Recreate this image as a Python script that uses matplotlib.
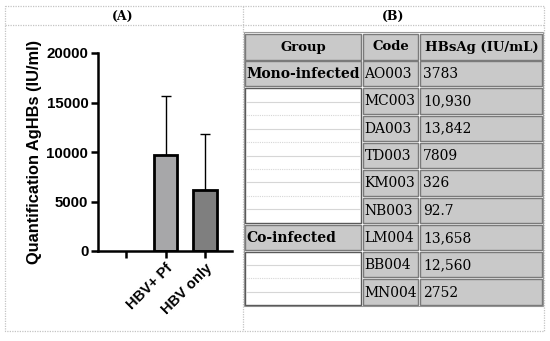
import numpy as np
import matplotlib
matplotlib.use("Agg")
import matplotlib.pyplot as plt
from matplotlib.patches import Rectangle

# panel A: mean and upper SD of HBsAg per group
cats = ["", "HBV+ Pf", "HBV only"]
means = [np.nan, 9657, 6130]
sds = [np.nan, 6004, 5674]
bar_cols = ["none", "#a7a7a9", "#7f7f7f"]
yticks = [0, 5000, 10000, 15000, 20000]

# panel B: table
head = ["Group", "Code", "HBsAg (IU/mL)"]
groups = ["Mono-infected", "", "", "", "", "", "Co-infected", "", ""]
codes = ["AO003", "MC003", "DA003", "TD003", "KM003", "NB003", "LM004", "BB004", "MN004"]
vals = ["3783", "10,930", "13,842", "7809", "326", "92.7", "13,658", "12,560", "2752"]

fig = plt.figure(figsize=(5.5, 3.41), dpi=100)
bg = fig.add_axes([0, 0, 1, 1])
bg.set_xlim(0, 550)
bg.set_ylim(341, 0)
bg.axis("off")

# outer frame, dotted light grey
fr = dict(color="#c4c4c4", lw=0.9, ls=(0, (1, 1)))
bg.plot([5, 544, 544, 5, 5], [6, 6, 331, 331, 6], **fr)
bg.plot([5, 544], [25, 25], **fr)
bg.plot([243, 243], [6, 331], **fr)
bg.text(123, 16, "(A)", ha="center", va="center", family="DejaVu Serif",
        fontweight="bold", fontsize=9)
bg.text(393, 16, "(B)", ha="center", va="center", family="DejaVu Serif",
        fontweight="bold", fontsize=9)

# table
cx = [(245, 361), (363, 418), (420, 542)]
bg.add_patch(Rectangle((244, 32), 299, 274, fill=False, ec="#9a9a9a", lw=0.8))


def cell(x0, x1, y0, y1, fc):
    bg.add_patch(Rectangle((x0, y0), x1 - x0, y1 - y0, fc=fc, ec="#7a7a7a", lw=1.0))


hy0, hy1 = 33.5, 59.5
for (x0, x1), h in zip(cx, head):
    cell(x0, x1, hy0, hy1, "#c9c9c9")
    bg.text((x0 + x1) / 2 + 0.5, (hy0 + hy1) / 2 + 0.5, h, ha="center", va="center",
            family="DejaVu Serif", fontweight="bold", fontsize=9.5)

rh = 27.3
top = 61
for i in range(len(codes)):
    y0 = top + i * rh
    y1 = y0 + rh - 2
    if groups[i]:
        cell(cx[0][0], cx[0][1], y0, y1, "#c9c9c9")
        bg.text(cx[0][0] + 1.5, (y0 + y1) / 2 + 0.5, groups[i], ha="left", va="center",
                family="DejaVu Serif", fontweight="bold", fontsize=10)
    cell(cx[1][0], cx[1][1], y0, y1, "#c9c9c9")
    cell(cx[2][0], cx[2][1], y0, y1, "#c9c9c9")
    bg.text(cx[1][0] + 1.5, (y0 + y1) / 2 + 0.5, codes[i], ha="left", va="center",
            family="DejaVu Serif", fontsize=10)
    bg.text(cx[2][0] + 3, (y0 + y1) / 2 + 0.5, vals[i], ha="left", va="center",
            family="DejaVu Serif", fontsize=10)

# blank merged group cells
for a, b in [(1, 6), (7, 9)]:
    y0 = top + a * rh
    y1 = top + b * rh - 2
    for k in range(1, 2 * (b - a)):
        yy = y0 + k * (y1 - y0) / (2 * (b - a))
        bg.plot([cx[0][0] + 1, cx[0][1] - 1], [yy, yy], color="#d6d6d6", lw=0.8,
                ls=(0, (1, 1)) if k % 2 == 0 else "-")
    bg.add_patch(Rectangle((cx[0][0], y0), cx[0][1] - cx[0][0], y1 - y0,
                           fill=False, ec="#5a5a5a", lw=1.0))

# panel A chart
ax = fig.add_axes([98 / 550, 1 - 251 / 341, (232 - 98) / 550, (251 - 53) / 341])
x = np.arange(len(cats))
ax.bar(x, means, width=0.6, color=bar_cols, edgecolor="black", linewidth=2, zorder=2)
ax.errorbar(x, means, yerr=[np.zeros(len(sds)), sds], fmt="none", ecolor="black",
            elinewidth=1, capsize=3.5, capthick=1, zorder=1)
ax.set_xlim(-0.71, 2.68)
ax.set_ylim(0, 20000)
ax.set_yticks(yticks)
ax.set_yticklabels([str(t) for t in yticks], fontweight="bold", fontsize=10.8,
                   family="Liberation Sans")
ax.set_xticks(x)
ax.set_xticklabels(cats, rotation=45, ha="right", rotation_mode="anchor",
                   fontweight="bold", fontsize=10.5, family="Liberation Sans")
ax.set_ylabel("Quantification AgHBs (IU/ml)", fontweight="bold", fontsize=11.8,
              family="Liberation Sans", labelpad=3)
for s in ["top", "right"]:
    ax.spines[s].set_visible(False)
for s in ["left", "bottom"]:
    ax.spines[s].set_linewidth(1.8)
ax.tick_params(width=1.8, length=5, pad=2)
ax.patch.set_alpha(0)

fig.savefig("out.png", dpi=100)
